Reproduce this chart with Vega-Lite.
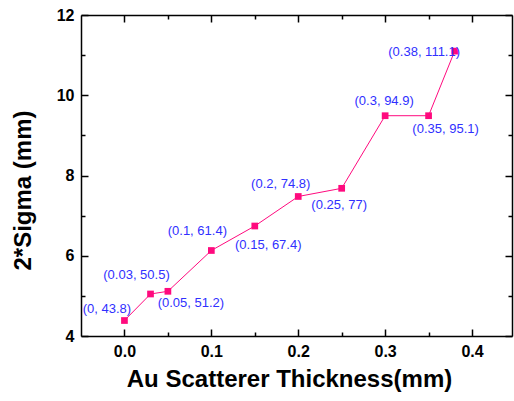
{
  "$schema": "https://vega.github.io/schema/vega-lite/v6.json",
  "width": 431,
  "height": 321,
  "autosize": {"type": "none"},
  "padding": {"left": 81, "top": 15, "right": 2, "bottom": 65},
  "background": "white",
  "config": {
    "view": {"stroke": null},
    "axis": {
      "domainColor": "black",
      "domainWidth": 1.5,
      "tickColor": "black",
      "tickWidth": 1.5,
      "grid": false,
      "labelFont": "Liberation Sans",
      "labelFontWeight": "bold",
      "labelFontSize": 16,
      "labelColor": "black",
      "titleFont": "Liberation Sans",
      "titleFontWeight": "bold",
      "titleFontSize": 24,
      "titleColor": "black"
    },
    "text": {"font": "Liberation Sans", "fontSize": 13, "color": "#3030ff", "align": "center", "baseline": "middle"}
  },
  "data": {
    "values": [
      {"t": 0, "s": 4.386, "label": "(0, 43.8)"},
      {"t": 0.03, "s": 5.047, "label": "(0.03, 50.5)"},
      {"t": 0.05, "s": 5.114, "label": "(0.05, 51.2)"},
      {"t": 0.1, "s": 6.131, "label": "(0.1, 61.4)"},
      {"t": 0.15, "s": 6.741, "label": "(0.15, 67.4)"},
      {"t": 0.2, "s": 7.477, "label": "(0.2, 74.8)"},
      {"t": 0.25, "s": 7.681, "label": "(0.25, 77)"},
      {"t": 0.3, "s": 9.49, "label": "(0.3, 94.9)"},
      {"t": 0.35, "s": 9.49, "label": "(0.35, 95.1)"},
      {"t": 0.38, "s": 11.1, "label": "(0.38, 111.1)"}
    ]
  },
  "resolve": {"axis": {"x": "independent", "y": "independent"}},
  "layer": [
    {
      "mark": {"type": "line", "color": "#ff0a7e", "strokeWidth": 1},
      "encoding": {
        "x": {"field": "t", "type": "quantitative",
          "scale": {"domain": [-0.05, 0.446], "nice": false, "zero": false},
          "axis": {"orient": "bottom", "values": [0, 0.1, 0.2, 0.3, 0.4], "format": ".1f",
            "tickSize": -7, "labelPadding": 14, "title": "Au Scatterer Thickness(mm)",
            "titleX": 208, "titleY": 43, "titleBaseline": "middle", "titleAlign": "center", "titleAnchor": null}},
        "y": {"field": "s", "type": "quantitative",
          "scale": {"domain": [4, 12], "nice": false, "zero": false},
          "axis": {"orient": "left", "values": [4, 6, 8, 10, 12], "format": "d",
            "tickSize": -7, "labelPadding": 14, "title": "2*Sigma (mm)",
            "titleX": -58, "titleY": 175, "titleAngle": -90, "titleBaseline": "middle", "titleAlign": "center", "titleAnchor": null}}
      }
    },
    {
      "mark": {"type": "point", "shape": "square", "filled": true, "color": "#ff0a7e", "size": 45, "opacity": 1},
      "encoding": {
        "x": {"field": "t", "type": "quantitative",
          "axis": {"orient": "top", "values": [0, 0.1, 0.2, 0.3, 0.4], "labels": false, "tickSize": -7, "title": null}},
        "y": {"field": "s", "type": "quantitative",
          "axis": {"orient": "right", "values": [4, 6, 8, 10, 12], "labels": false, "tickSize": -7, "title": null}}
      }
    },
    {
      "transform": [{"filter": "datum.t == 0.03 || datum.t == 0.1"}],
      "mark": {"type": "text", "dx": -14, "dy": -19},
      "encoding": {
        "x": {"field": "t", "type": "quantitative",
          "axis": {"orient": "bottom", "values": [0.05, 0.15, 0.25, 0.35], "labels": false, "domain": false, "tickSize": -4, "title": null}},
        "y": {"field": "s", "type": "quantitative",
          "axis": {"orient": "left", "values": [5, 7, 9, 11], "labels": false, "domain": false, "tickSize": -4, "title": null}},
        "text": {"field": "label"}
      }
    },
    {
      "transform": [{"filter": "datum.t == 0 || datum.t == 0.2"}],
      "mark": {"type": "text", "dx": -17.5, "dy": -12},
      "encoding": {
        "x": {"field": "t", "type": "quantitative",
          "axis": {"orient": "top", "values": [0.05, 0.15, 0.25, 0.35], "labels": false, "domain": false, "tickSize": -4, "title": null}},
        "y": {"field": "s", "type": "quantitative",
          "axis": {"orient": "right", "values": [5, 7, 9, 11], "labels": false, "domain": false, "tickSize": -4, "title": null}},
        "text": {"field": "label"}
      }
    },
    {
      "transform": [{"filter": "datum.t == 0.05"}],
      "mark": {"type": "text", "dx": 23, "dy": 12},
      "encoding": {
        "x": {"field": "t", "type": "quantitative", "axis": null},
        "y": {"field": "s", "type": "quantitative", "axis": null},
        "text": {"field": "label"}
      }
    },
    {
      "transform": [{"filter": "datum.t == 0.15"}],
      "mark": {"type": "text", "dx": 13.5, "dy": 19},
      "encoding": {
        "x": {"field": "t", "type": "quantitative", "axis": null},
        "y": {"field": "s", "type": "quantitative", "axis": null},
        "text": {"field": "label"}
      }
    },
    {
      "transform": [{"filter": "datum.t == 0.25"}],
      "mark": {"type": "text", "dx": -2.5, "dy": 17},
      "encoding": {
        "x": {"field": "t", "type": "quantitative", "axis": null},
        "y": {"field": "s", "type": "quantitative", "axis": null},
        "text": {"field": "label"}
      }
    },
    {
      "transform": [{"filter": "datum.t == 0.3"}],
      "mark": {"type": "text", "dx": -1, "dy": -15},
      "encoding": {
        "x": {"field": "t", "type": "quantitative", "axis": null},
        "y": {"field": "s", "type": "quantitative", "axis": null},
        "text": {"field": "label"}
      }
    },
    {
      "transform": [{"filter": "datum.t == 0.35"}],
      "mark": {"type": "text", "dx": 17, "dy": 13},
      "encoding": {
        "x": {"field": "t", "type": "quantitative", "axis": null},
        "y": {"field": "s", "type": "quantitative", "axis": null},
        "text": {"field": "label"}
      }
    },
    {
      "transform": [{"filter": "datum.t == 0.38"}],
      "mark": {"type": "text", "dx": -30.5, "dy": 1},
      "encoding": {
        "x": {"field": "t", "type": "quantitative", "axis": null},
        "y": {"field": "s", "type": "quantitative", "axis": null},
        "text": {"field": "label"}
      }
    }
  ]
}
